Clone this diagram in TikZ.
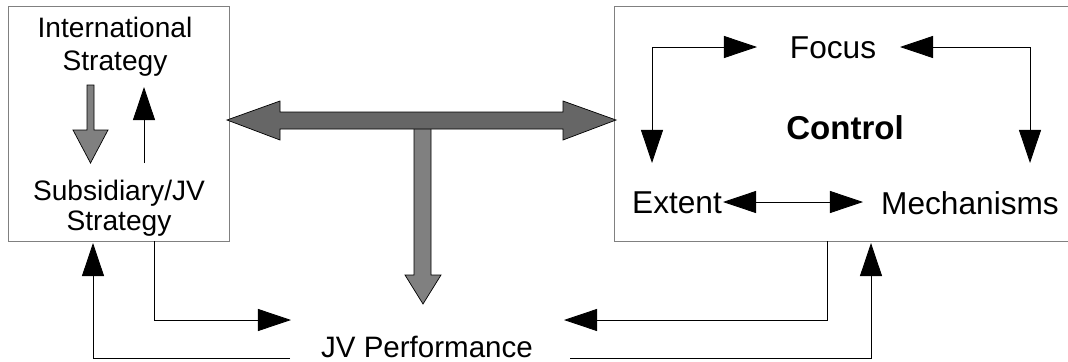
\documentclass[tikz,border=0pt]{standalone}
\usepackage{fontspec}
\setmainfont{Liberation Sans}
\usetikzlibrary{arrows.meta}

\tikzset{
  box/.style={draw=gray, line width=0.7pt, inner sep=0pt},
  lbl/.style={inner sep=0pt, align=center},
  tip/.style={-{Triangle[length=0.825cm,width=0.55cm]}, line width=0.6pt},
  tips/.style={{Triangle[length=0.825cm,width=0.55cm]}-{Triangle[length=0.825cm,width=0.55cm]}, line width=0.6pt},
  fatdark/.style={draw=black, line width=0.5pt, fill=black!60},
  fatlight/.style={draw=black, line width=0.5pt, fill=black!50}
}

\begin{document}
\begin{tikzpicture}[x=0.025cm,y=-0.025cm]
        \useasboundingbox (0,0) rectangle (1068,362);
        % Strategy box
        \node[box, minimum width=5.5cm, minimum height=5.85cm] (lbox) at (119,124) {};
        \node[lbl, font=\fontsize{20}{23.5}\selectfont] (intl) at (115,47) {International\\Strategy};
        \node[lbl, font=\fontsize{20}{21}\selectfont] (subs) at (119,208) {Subsidiary/JV\\Strategy};
        \draw[fatlight] (87,85) -- (94,85) -- (94,130) -- (108,130) -- (90.5,163)
                -- (73,130) -- (87,130) -- cycle; % top down
        \coordinate (upfrom) at (144,163);
        \coordinate (upto) at (144,87);
        \draw[tip] (upfrom) -- (upto); % bottom up
        % Control box (runs past the right edge)
        \node[box, minimum width=11.5cm, minimum height=5.85cm] (rbox) at (845,124) {};
        \node[lbl, font=\fontsize{22.5}{27}\selectfont] (focus) at (833,48) {Focus};
        \node[lbl, font=\fontsize{23.5}{28}\selectfont\bfseries] (control) at (845,128) {Control};
        \node[lbl, font=\fontsize{22.5}{27}\selectfont] (extent) at (677,203) {Extent};
        \node[lbl, font=\fontsize{22.5}{27}\selectfont] (mech) at (970,203) {Mechanisms};
        \coordinate (focusL) at (757,47);
        \coordinate (focusR) at (900,47);
        \coordinate (extentT) at (652,163);
        \coordinate (mechT) at (1030,163);
        \coordinate (extentR) at (723,202);
        \coordinate (mechL) at (863,202);
        \draw[tips] (focusL) -| (extentT);
        \draw[tips] (focusR) -| (mechT);
        \draw[tips] (extentR) -- (mechL);
        % Link between the boxes
        \draw[fatlight] (414,129) -- (414,275) -- (405,275) -- (423,304) -- (441,275)
                -- (431,275) -- (431,129);
        \draw[fatdark] (227,120) -- (280,101) -- (280,112) -- (563,112) -- (563,101)
                -- (616,120) -- (563,140) -- (563,129) -- (280,129) -- (280,140) -- cycle;
        % Performance and feedback
        \node[lbl, font=\fontsize{21}{25}\selectfont] (perf) at (427,347) {JV Performance};
        \coordinate (lout) at (154,241);
        \coordinate (lin) at (93,243);
        \coordinate (rout) at (827,241);
        \coordinate (rin) at (871,243);
        \coordinate (perfL) at (291,320);
        \coordinate (perfR) at (564,320);
        \coordinate (backL) at (290,358);
        \coordinate (backR) at (570,358);
        \draw[tip] (lout) |- (perfL);
        \draw[tip] (backL) -| (lin);
        \draw[tip] (rout) |- (perfR);
        \draw[tip] (backR) -| (rin);
\end{tikzpicture}
\end{document}
